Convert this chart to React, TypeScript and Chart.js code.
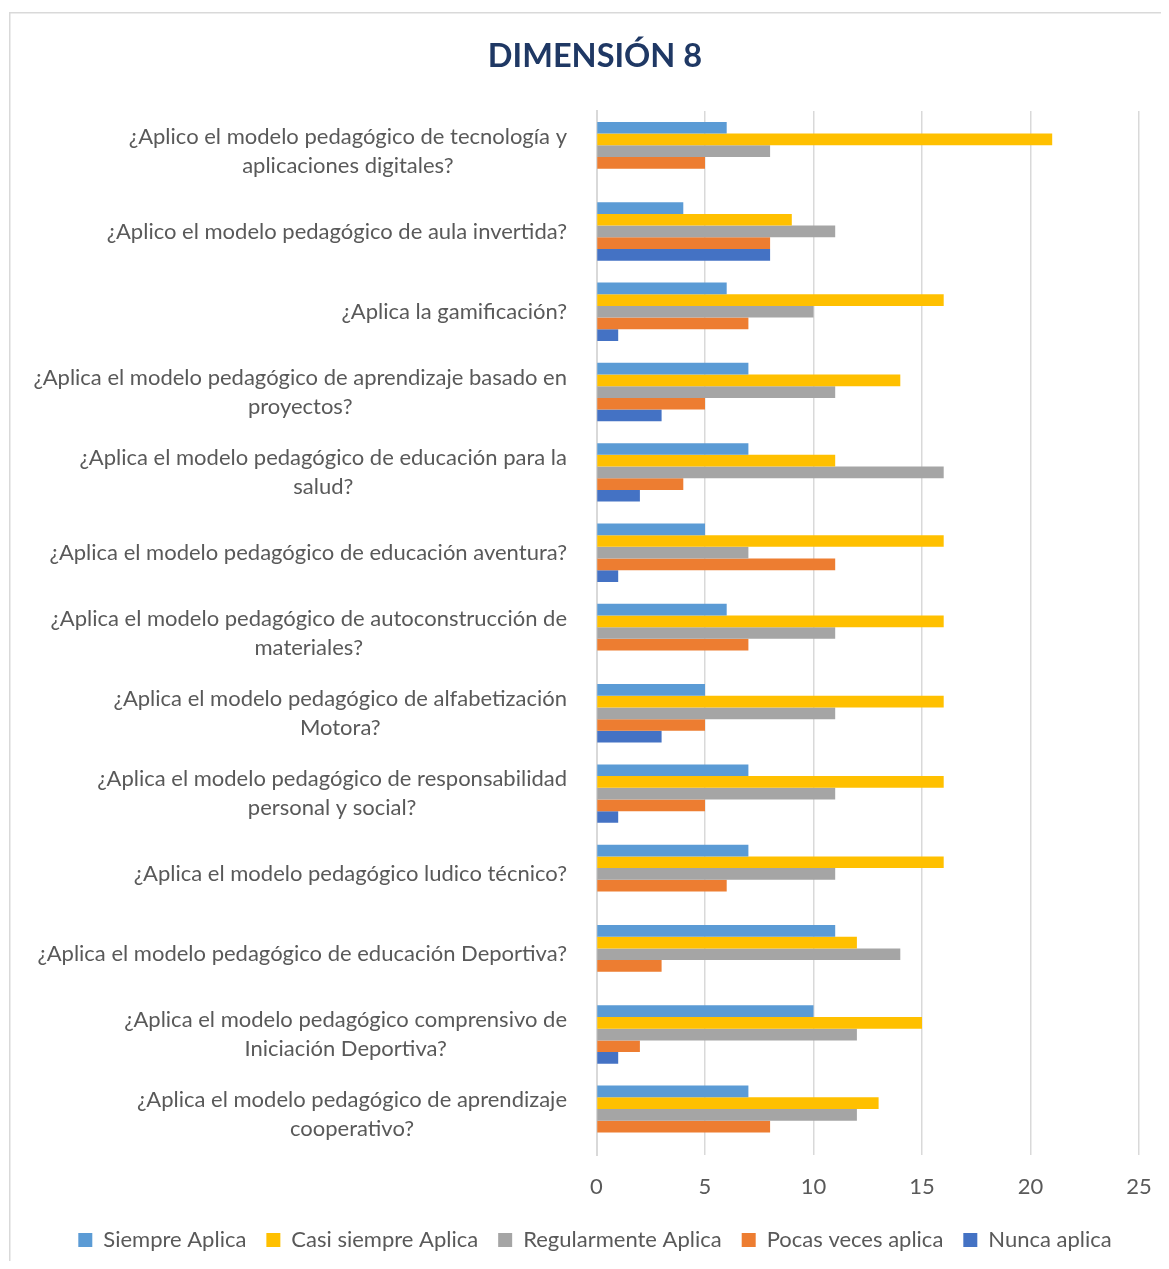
import React, { useEffect, useRef } from 'react';
import { Chart, registerables } from 'chart.js';

Chart.register(...registerables);

const categories: string[][] = [
  ['¿Aplico el modelo pedagógico de tecnología y', 'aplicaciones digitales?'],
  ['¿Aplico el modelo pedagógico de aula invertida?'],
  ['¿Aplica la gamificación?'],
  ['¿Aplica el modelo pedagógico de aprendizaje basado en', 'proyectos?'],
  ['¿Aplica el modelo pedagógico de educación para la', 'salud?'],
  ['¿Aplica el modelo pedagógico de educación aventura?'],
  ['¿Aplica el modelo pedagógico de autoconstrucción de', 'materiales?'],
  ['¿Aplica el modelo pedagógico de alfabetización', 'Motora?'],
  ['¿Aplica el modelo pedagógico de responsabilidad', 'personal y social?'],
  ['¿Aplica el modelo pedagógico ludico técnico?'],
  ['¿Aplica el modelo pedagógico de educación Deportiva?'],
  ['¿Aplica el modelo pedagógico comprensivo de', 'Iniciación Deportiva?'],
  ['¿Aplica el modelo pedagógico de aprendizaje', 'cooperativo?'],
];

const seriesNames = ['Siempre Aplica', 'Casi siempre Aplica', 'Regularmente Aplica', 'Pocas veces aplica', 'Nunca aplica'];
const siempre = [6, 4, 6, 7, 7, 5, 6, 5, 7, 7, 11, 10, 7];
const casiSiempre = [21, 9, 16, 14, 11, 16, 16, 16, 16, 16, 12, 15, 13];
const regularmente = [8, 11, 10, 11, 16, 7, 11, 11, 11, 11, 14, 12, 12];
const pocasVeces = [5, 8, 7, 5, 4, 11, 7, 5, 5, 6, 3, 2, 8];
const nunca = [0, 8, 1, 3, 2, 1, 0, 3, 1, 0, 0, 1, 0];
const seriesColors = ['#5B9BD5', '#FFC000', '#A5A5A5', '#ED7D31', '#4472C4'];
const xMin = 0;
const xMax = 25;
const xStep = 5;
const titleText = 'DIMENSIÓN 8';

const FONT = 'Lato, Calibri, sans-serif';
const TEXT = '#595959';
const GRID = '#d9d9d9';

export default function App() {
  const ref = useRef<HTMLCanvasElement>(null);

  useEffect(() => {
    if (!ref.current) return;
    const frame = {
      id: 'frame',
      beforeDraw(chart: any) {
        const { ctx, width, height } = chart;
        ctx.save();
        ctx.fillStyle = '#ffffff';
        ctx.fillRect(0, 0, width, height);
        ctx.strokeStyle = GRID;
        ctx.lineWidth = 1.5;
        ctx.beginPath();
        ctx.moveTo(1.75, height);
        ctx.lineTo(1.75, 4.75);
        ctx.lineTo(width, 4.75);
        ctx.stroke();
        ctx.restore();
      },
    };
    const yLabels = {
      id: 'yLabels',
      afterDraw(chart: any) {
        const y = chart.scales.y;
        const ctx = chart.ctx;
        ctx.save();
        ctx.font = `22px ${FONT}`;
        ctx.fillStyle = TEXT;
        ctx.textAlign = 'center';
        ctx.textBaseline = 'middle';
        const right = y.right - 29.5;
        const lh = 29;
        categories.forEach((lines, i) => {
          const cy = y.getPixelForValue(i);
          const w = Math.max(...lines.map((l) => ctx.measureText(l).width));
          const cx = right - w / 2;
          lines.forEach((l, j) => {
            ctx.fillText(l, cx, cy + (j - (lines.length - 1) / 2) * lh);
          });
        });
        ctx.restore();
      },
    };
    const values = [siempre, casiSiempre, regularmente, pocasVeces, nunca];
    const chart = new Chart(ref.current, {
      type: 'bar',
      data: {
        labels: categories,
        datasets: seriesNames.map((name, k) => ({
          label: name,
          data: values[k],
          backgroundColor: seriesColors[k],
          borderWidth: 0,
          barPercentage: 1,
          categoryPercentage: 0.728,
        })),
      },
      options: {
        indexAxis: 'y',
        responsive: false,
        animation: false,
        layout: { padding: { left: 13, right: 0, top: 0, bottom: 0 } },
        scales: {
          x: {
            min: xMin,
            max: xMax,
            ticks: { stepSize: xStep, color: TEXT, font: { family: FONT, size: 22 }, padding: 19 },
            grid: { color: GRID, lineWidth: 1.5, drawTicks: false },
            border: { display: false },
            afterFit: (s: any) => {
              s.paddingRight = 30;
              s.height = 54;
            },
          },
          y: {
            ticks: { display: false },
            grid: { display: false },
            border: { display: true, color: GRID, width: 2 },
            afterFit: (s: any) => {
              s.width = 575.5;
            },
          },
        },
        plugins: {
          title: {
            display: true,
            text: titleText,
            color: '#1F3864',
            font: { family: FONT, size: 32.5, weight: 'bold' },
            padding: { top: 29, bottom: 35 },
          },
          legend: {
            position: 'bottom',
            labels: {
              boxWidth: 14,
              boxHeight: 14,
              padding: 20,
              color: TEXT,
              font: { family: FONT, size: 22 },
            },
          },
          tooltip: { enabled: false },
        },
      } as any,
      plugins: [frame, yLabels],
    });
    return () => chart.destroy();
  }, []);

  return (
    <div style={{ width: 1161, height: 1253 }}>
      <canvas ref={ref} width={1161} height={1253} style={{ display: 'block' }} />
    </div>
  );
}
